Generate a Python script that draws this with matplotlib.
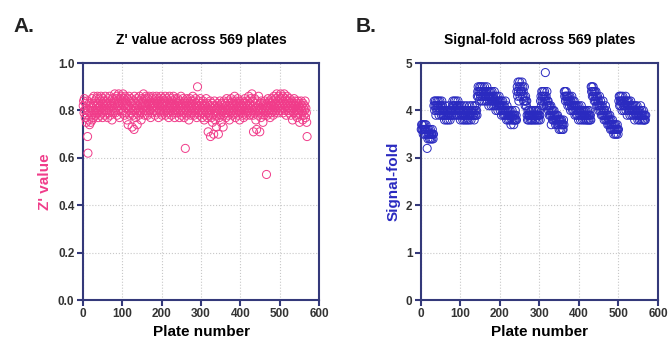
import matplotlib.pyplot as plt
import numpy as np

# Z' value per plate (plates 1..569)
z_prime = [
    0.82, 0.84, 0.79, 0.85, 0.80, 0.77, 0.83, 0.81, 0.75, 0.78, 0.84, 0.69, 0.62, 0.80, 0.76, 0.83, 0.74, 0.79, 0.82, 0.75,
    0.81, 0.78, 0.85, 0.76, 0.80, 0.83, 0.77, 0.86, 0.79, 0.82, 0.84, 0.80, 0.78, 0.85, 0.82, 0.79, 0.86, 0.81, 0.77, 0.83,
    0.80, 0.85, 0.82, 0.78, 0.84, 0.86, 0.81, 0.79, 0.83, 0.77, 0.85, 0.82, 0.80, 0.84, 0.78, 0.81, 0.86, 0.83, 0.79, 0.82,
    0.84, 0.80, 0.77, 0.83, 0.85, 0.81, 0.79, 0.86, 0.82, 0.78, 0.84, 0.80, 0.83, 0.76, 0.85, 0.82, 0.79, 0.81, 0.84, 0.80,
    0.87, 0.83, 0.79, 0.85, 0.81, 0.86, 0.78, 0.82, 0.84, 0.80, 0.87, 0.83, 0.77, 0.85, 0.82, 0.80, 0.86, 0.81, 0.84, 0.79,
    0.83, 0.87, 0.80, 0.85, 0.82, 0.78, 0.86, 0.81, 0.84, 0.79, 0.83, 0.76, 0.85, 0.81, 0.74, 0.82, 0.86, 0.80, 0.78, 0.84,
    0.81, 0.85, 0.79, 0.83, 0.73, 0.80, 0.84, 0.78, 0.82, 0.72, 0.86, 0.80, 0.83, 0.77, 0.81, 0.85, 0.79, 0.74, 0.82, 0.80,
    0.84, 0.78, 0.81, 0.86, 0.79, 0.83, 0.80, 0.76, 0.85, 0.82, 0.79, 0.84, 0.81, 0.87, 0.80, 0.83, 0.78, 0.85, 0.82, 0.86,
    0.80, 0.84, 0.81, 0.78, 0.85, 0.83, 0.79, 0.86, 0.82, 0.80, 0.84, 0.77, 0.83, 0.81, 0.85, 0.79, 0.82, 0.86, 0.80, 0.84,
    0.81, 0.83, 0.78, 0.85, 0.82, 0.80, 0.86, 0.79, 0.84, 0.81, 0.83, 0.77, 0.85, 0.82, 0.80, 0.84, 0.79, 0.86, 0.81, 0.83,
    0.78, 0.82, 0.85, 0.80, 0.83, 0.79, 0.84, 0.81, 0.86, 0.78, 0.82, 0.80, 0.85, 0.83, 0.79, 0.81, 0.84, 0.77, 0.82, 0.86,
    0.80, 0.83, 0.81, 0.85, 0.78, 0.82, 0.84, 0.79, 0.81, 0.86, 0.80, 0.83, 0.77, 0.82, 0.85, 0.81, 0.79, 0.84, 0.80, 0.82,
    0.85, 0.79, 0.83, 0.81, 0.77, 0.84, 0.80, 0.82, 0.86, 0.78, 0.81, 0.83, 0.79, 0.85, 0.80, 0.82, 0.77, 0.84, 0.81, 0.64,
    0.83, 0.80, 0.78, 0.85, 0.82, 0.79, 0.84, 0.81, 0.76, 0.83, 0.80, 0.85, 0.82, 0.78, 0.84, 0.81, 0.79, 0.83, 0.86, 0.80,
    0.82, 0.78, 0.84, 0.81, 0.79, 0.85, 0.80, 0.83, 0.77, 0.82, 0.90, 0.81, 0.79, 0.84, 0.80, 0.82, 0.78, 0.85, 0.81, 0.79,
    0.83, 0.80, 0.77, 0.82, 0.84, 0.79, 0.81, 0.76, 0.83, 0.80, 0.78, 0.82, 0.85, 0.79, 0.81, 0.77, 0.83, 0.71, 0.80, 0.78,
    0.82, 0.79, 0.84, 0.69, 0.81, 0.77, 0.80, 0.83, 0.75, 0.82, 0.78, 0.70, 0.81, 0.84, 0.79, 0.76, 0.82, 0.80, 0.73, 0.78,
    0.81, 0.83, 0.79, 0.70, 0.82, 0.77, 0.80, 0.84, 0.78, 0.81, 0.75, 0.83, 0.79, 0.82, 0.80, 0.73, 0.78, 0.84, 0.81, 0.79,
    0.83, 0.80, 0.77, 0.82, 0.85, 0.79, 0.81, 0.78, 0.84, 0.80, 0.82, 0.76, 0.83, 0.81, 0.79, 0.85, 0.80, 0.82, 0.78, 0.84,
    0.81, 0.79, 0.83, 0.80, 0.86, 0.82, 0.77, 0.84, 0.81, 0.79, 0.83, 0.80, 0.85, 0.78, 0.82, 0.80, 0.84, 0.76, 0.81, 0.83,
    0.79, 0.82, 0.80, 0.84, 0.78, 0.81, 0.83, 0.77, 0.82, 0.80, 0.85, 0.79, 0.81, 0.83, 0.78, 0.80, 0.84, 0.82, 0.79, 0.81,
    0.86, 0.80, 0.83, 0.78, 0.82, 0.85, 0.79, 0.81, 0.87, 0.80, 0.84, 0.78, 0.71, 0.82, 0.80, 0.85, 0.79, 0.83, 0.76, 0.81,
    0.72, 0.84, 0.80, 0.78, 0.82, 0.86, 0.79, 0.81, 0.71, 0.83, 0.80, 0.77, 0.84, 0.81, 0.79, 0.82, 0.75, 0.80, 0.83, 0.78,
    0.81, 0.84, 0.79, 0.82, 0.80, 0.53, 0.83, 0.78, 0.81, 0.85, 0.79, 0.82, 0.80, 0.84, 0.77, 0.81, 0.83, 0.79, 0.85, 0.82,
    0.80, 0.84, 0.78, 0.82, 0.86, 0.81, 0.79, 0.83, 0.85, 0.80, 0.82, 0.87, 0.81, 0.84, 0.79, 0.83, 0.86, 0.80, 0.82, 0.85,
    0.81, 0.87, 0.83, 0.80, 0.85, 0.82, 0.86, 0.79, 0.84, 0.81, 0.87, 0.83, 0.80, 0.85, 0.82, 0.78, 0.84, 0.86, 0.81, 0.83,
    0.80, 0.84, 0.82, 0.79, 0.85, 0.81, 0.83, 0.78, 0.82, 0.84, 0.80, 0.76, 0.83, 0.81, 0.79, 0.85, 0.82, 0.80, 0.84, 0.78,
    0.82, 0.80, 0.83, 0.77, 0.81, 0.84, 0.79, 0.82, 0.80, 0.75, 0.83, 0.81, 0.78, 0.84, 0.80, 0.82, 0.79, 0.76, 0.83, 0.81,
    0.78, 0.82, 0.80, 0.84, 0.77, 0.81, 0.79, 0.75, 0.69,
]

# Signal-fold per plate (plates 1..569)
signal_fold = [
    # 1-32
    3.6, 3.7, 3.6, 3.7, 3.6, 3.5, 3.7, 3.6, 3.6, 3.7, 3.5, 3.6, 3.7, 3.6,
    3.5, 3.2, 3.6, 3.4, 3.5, 3.6, 3.5, 3.4, 3.5, 3.6, 3.4, 3.5, 3.5, 3.4, 3.6, 3.5, 3.4, 3.5,
    # 33-142
    4.1, 4.2, 4.0, 4.1, 4.2, 3.9, 4.1, 4.0, 4.2, 4.1, 4.0, 4.2, 4.1, 3.9, 4.0, 4.2, 4.1, 4.0, 4.1, 3.9, 4.2, 4.0, 4.1, 3.9, 4.0,
    3.9, 4.0, 3.8, 3.9, 4.1, 4.0, 3.9, 3.8, 4.0, 3.9, 4.0, 3.8, 3.9, 4.1, 4.0, 3.9, 3.8, 4.0, 3.9, 4.0, 3.9,
    4.0, 4.1, 4.2, 3.9, 4.1, 4.0, 4.2, 4.1, 3.9, 4.0, 4.2, 4.1, 4.0, 3.9, 4.1, 4.2, 4.0, 4.1, 3.9, 4.0, 4.1, 3.8, 4.0, 3.9, 4.1, 4.0,
    3.9, 3.8, 4.0, 3.9, 4.1, 3.8, 3.9, 4.0, 3.9, 3.8, 4.0, 4.1, 3.9, 3.8, 4.0, 3.9, 4.0, 3.8, 3.9, 4.1, 4.0, 3.9, 3.8, 4.0, 3.9,
    4.1, 4.0, 3.9, 3.9, 4.0, 3.8, 4.1, 3.9, 4.0, 3.9, 4.1, 4.0, 3.9,
    # 143-242
    4.3, 4.4, 4.5, 4.3, 4.4, 4.2, 4.5, 4.4, 4.3, 4.5, 4.4, 4.2, 4.3, 4.5, 4.4, 4.3, 4.4, 4.2, 4.5, 4.3, 4.4, 4.3, 4.2, 4.4, 4.5,
    4.3, 4.2, 4.4, 4.3, 4.1, 4.4, 4.3, 4.2, 4.4, 4.3, 4.1, 4.2, 4.4, 4.3, 4.2, 4.1, 4.3, 4.2, 4.4, 4.1, 4.2, 4.3, 4.0, 4.2, 4.1,
    4.3, 4.2, 4.0, 4.1, 4.2,
    4.3, 4.1, 4.2, 4.0, 4.1, 4.2, 3.9, 4.1, 4.0, 4.2, 4.1, 3.9, 4.0, 4.1, 3.9, 4.0, 4.2, 3.9, 4.0, 3.8, 4.1, 3.9, 4.0, 3.8, 3.9,
    4.0, 3.9, 3.8, 4.0, 3.9, 3.7, 3.9, 3.8, 4.0, 3.9, 3.8, 3.9, 3.7, 3.8, 3.9, 3.8, 4.0, 3.8, 3.9, 3.8,
    # 243-268
    4.4, 4.5, 4.3, 4.6, 4.4, 4.2, 4.5, 4.6, 4.3, 4.4, 4.5, 4.4, 4.4, 4.6, 4.3, 4.5, 4.4, 4.2, 4.3, 4.5, 4.2, 4.1, 4.3, 4.2, 4.1, 4.2,
    # 269-302
    3.9, 3.8, 4.0, 3.9, 3.8, 4.0, 3.9, 3.9, 3.8, 4.0, 3.9, 3.8, 4.0, 3.9, 3.8, 3.9, 4.0, 3.9, 3.8, 3.9, 4.0, 3.8, 3.9, 4.0, 3.9,
    3.8, 3.9, 4.0, 3.9, 3.8, 3.9, 4.0, 3.9, 3.8,
    # 303-320
    4.2, 4.3, 4.1, 4.4, 4.2, 4.3, 4.4, 4.1, 4.3, 4.2, 4.4, 4.3, 4.8, 4.2, 4.3, 4.1, 4.4, 4.2,
    # 321-362
    4.1, 4.2, 4.0, 4.1, 3.9, 4.1, 4.0, 3.9, 4.1, 3.7, 4.0, 3.9, 3.8, 4.0, 3.9, 3.8, 4.0, 3.9, 3.8, 3.9, 3.7, 3.8, 3.9, 3.8, 3.7,
    3.9, 3.8, 3.7, 3.8, 3.6, 3.8, 3.7, 3.8, 3.6, 3.7, 3.8, 3.7, 3.6, 3.7, 3.6, 3.8, 3.7,
    # 363-430
    4.4, 4.3, 4.4, 4.2, 4.3, 4.4, 4.3, 4.2, 4.3, 4.1, 4.2, 4.3, 4.2, 4.1, 4.3, 4.2, 4.0, 4.2, 4.1, 4.3, 4.1, 4.0, 4.2, 4.1, 4.0,
    4.2, 4.1, 3.9,
    4.1, 4.0, 4.1, 3.9, 4.0, 4.1, 3.9, 4.0, 3.8, 4.1, 4.0, 3.9, 4.0, 3.8, 3.9, 4.1, 4.0, 3.9, 3.8, 4.0, 3.9, 4.0, 3.8, 3.9, 4.0,
    3.9, 3.8, 4.0, 3.9, 3.8, 3.9, 4.0, 3.8, 3.9, 3.8, 4.0, 3.9, 3.8, 3.9, 3.8,
    # 431-500
    4.5, 4.4, 4.5, 4.3, 4.4, 4.5, 4.3, 4.4, 4.2, 4.4, 4.3, 4.2, 4.4, 4.3, 4.1, 4.2, 4.3, 4.1, 4.2, 4.0,
    4.1, 4.3, 4.1, 4.0, 4.2, 4.1, 3.9, 4.0, 4.1, 3.9, 4.2, 4.0, 3.9, 3.8, 4.0, 3.9, 4.1, 3.8, 3.9, 4.0,
    3.8, 3.9, 3.7, 3.9, 3.8, 3.7, 3.8, 3.9, 3.7, 3.6, 3.8, 3.7, 3.6, 3.7, 3.8, 3.6, 3.7, 3.5, 3.6, 3.7,
    3.6, 3.5, 3.7, 3.6, 3.5, 3.6, 3.7, 3.6, 3.5, 3.6,
    # 501-569
    4.2, 4.3, 4.1, 4.3, 4.2, 4.1, 4.3, 4.2, 4.0, 4.2, 4.3, 4.1, 4.2, 4.0, 4.1, 4.2, 4.1, 4.3, 4.0, 4.2,
    4.1, 3.9, 4.2, 4.1, 4.0, 4.2, 4.1, 4.0, 3.9, 4.1, 4.2, 4.0, 4.1, 3.9, 4.0, 4.1, 4.0, 3.9, 4.1, 4.0,
    3.8, 4.0, 4.1, 3.9, 4.0, 3.9, 4.1, 4.0, 3.8, 3.9, 4.0, 3.9, 3.8, 4.0, 3.9, 4.1, 3.8, 3.9, 4.0, 3.9,
    3.8, 3.9, 4.0, 3.8, 3.9, 3.8, 3.9, 3.8, 3.9,
]

x_ticks = [0, 100, 200, 300, 400, 500, 600]

pink = '#F03C8A'
blue = '#2A2AC0'
navy = '#34397A'

plt.rcParams['font.family'] = ['Liberation Sans', 'DejaVu Sans']

fig = plt.figure(figsize=(6.68, 3.41), dpi=100)
ax1 = fig.add_axes([0.124, 0.120, 0.354, 0.695])
ax2 = fig.add_axes([0.630, 0.120, 0.355, 0.695])


def style_axes(ax, yticks, ylabel, ycolor, title, yfmt):
    ax.set_xlim(0, 600)
    ax.set_ylim(yticks[0], yticks[-1])
    ax.set_xticks(x_ticks)
    ax.set_yticks(yticks)
    ax.set_yticklabels([yfmt.format(v) for v in yticks])
    ax.grid(True, linestyle=':', color='#c8c8c8', linewidth=0.8)
    ax.set_axisbelow(True)
    for s in ax.spines.values():
        s.set_color(navy)
        s.set_linewidth(1.5)
    ax.tick_params(axis='both', direction='out', length=4, width=1.5,
                   color=navy, labelsize=8.5, labelcolor='#333333', pad=2)
    for lab in ax.get_xticklabels() + ax.get_yticklabels():
        lab.set_fontweight('bold')
    ax.set_xlabel('Plate number', fontsize=11, fontweight='bold', labelpad=3)
    ax.set_ylabel(ylabel, fontsize=11, fontweight='bold', color=ycolor, labelpad=4)
    ax.set_title(title, fontsize=10, fontweight='bold', pad=14)


plates_a = np.arange(1, len(z_prime) + 1)
ax1.scatter(plates_a, z_prime, s=34, facecolors='none', edgecolors=pink,
            linewidths=0.7, zorder=3, clip_on=False)
style_axes(ax1, [0.0, 0.2, 0.4, 0.6, 0.8, 1.0], "Z' value", pink,
           "Z' value across 569 plates", '{:.1f}')

plates_b = np.arange(1, len(signal_fold) + 1)
ax2.scatter(plates_b, signal_fold, s=34, facecolors='none', edgecolors=blue,
            linewidths=0.7, zorder=3, clip_on=False)
style_axes(ax2, [0, 1, 2, 3, 4, 5], 'Signal-fold', blue,
           'Signal-fold across 569 plates', '{:d}')

fig.text(0.020, 0.905, 'A.', fontsize=15, fontweight='bold', color='#222222')
fig.text(0.533, 0.905, 'B.', fontsize=15, fontweight='bold', color='#222222')

plt.savefig('out.png', dpi=100)
